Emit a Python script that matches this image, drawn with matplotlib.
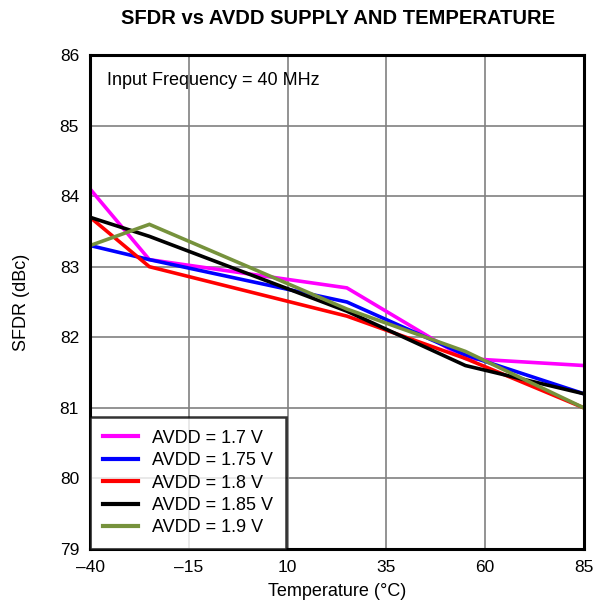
import numpy as np
import matplotlib
matplotlib.use('Agg')
import matplotlib.pyplot as plt

plt.rcParams['font.family'] = ['Liberation Sans', 'DejaVu Sans']

# temperature points (deg C)
temp = [-40, -25, 25, 55, 85]

# SFDR (dBc) per supply
sfdr_170 = [84.1, 83.1, 82.7, 81.7, 81.6]
sfdr_175 = [83.3, 83.1, 82.5, 81.75, 81.2]
sfdr_180 = [83.7, 83.0, 82.3, 81.7, 81.0]
sfdr_185 = [83.7, 83.43, 82.37, 81.6, 81.2]
sfdr_190 = [83.3, 83.6, 82.4, 81.8, 81.0]

labels = ['AVDD = 1.7 V', 'AVDD = 1.75 V', 'AVDD = 1.8 V', 'AVDD = 1.85 V', 'AVDD = 1.9 V']
colors = ['#FF00FF', '#0000FF', '#FF0000', '#000000', '#76923C']
xticks = [-40, -15, 10, 35, 60, 85]
xticklabels = ['\u201340', '\u201315', '10', '35', '60', '85']
yticks = [79, 80, 81, 82, 83, 84, 85, 86]

fig = plt.figure(figsize=(5.97, 6.04), dpi=100)
ax = fig.add_axes([0.151, 0.091, 0.827, 0.818])

for ys, lab, c in zip([sfdr_170, sfdr_175, sfdr_180, sfdr_185, sfdr_190], labels, colors):
    ax.plot(temp, ys, color=c, linewidth=2.6, label=lab, solid_joinstyle='miter')

ax.set_xlim(-40, 85)
ax.set_ylim(79, 86)
ax.set_xticks(xticks)
ax.set_xticklabels(xticklabels)
ax.set_yticks(yticks)
ax.grid(True, color='#808080', linewidth=1.2)
ax.set_axisbelow(True)
for s in ax.spines.values():
    s.set_linewidth(2.2)
    s.set_color('black')
ax.tick_params(length=0, labelsize=12.5, pad=8)

ax.set_xlabel('Temperature (\u00b0C)', fontsize=13, labelpad=6)
ax.set_ylabel('SFDR (dBc)', fontsize=13, labelpad=21)
fig.text(0.566, 0.97, 'SFDR vs AVDD SUPPLY AND TEMPERATURE', fontsize=14.5, fontweight='bold',
         ha='center', va='center')

ax.text(0.035, 0.965, 'Input Frequency = 40 MHz', transform=ax.transAxes, fontsize=13, va='top', ha='left')

leg = ax.legend(loc='lower left', fontsize=13, frameon=True, fancybox=False, edgecolor='black',
                handlelength=1.95, borderpad=0.7, labelspacing=0.3, borderaxespad=0.0, handletextpad=0.8)
leg.get_frame().set_linewidth(1.8)
for line in leg.get_lines():
    line.set_linewidth(3)

plt.savefig('out.png', dpi=100)
